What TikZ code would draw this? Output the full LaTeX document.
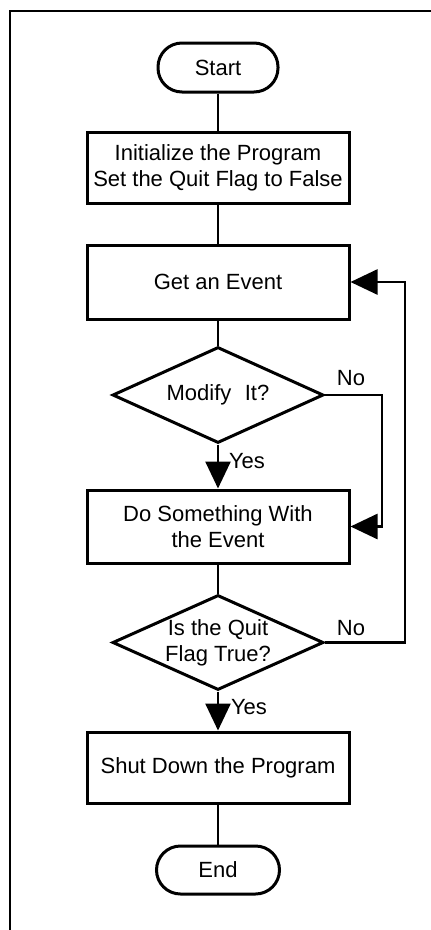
\documentclass[tikz,border=0pt]{standalone}
\usepackage{fontspec}
\setmainfont{Liberation Sans}
\usetikzlibrary{shapes.geometric,arrows.meta}

\begin{document}
\begin{tikzpicture}[x=1pt,y=-1pt,
  every node/.style={font=\fontsize{22}{26}\selectfont, align=center, inner sep=0pt},
  pill/.style={draw, line width=3pt, rounded corners=24pt,
               minimum width=120pt, minimum height=49pt},
  stepbox/.style={draw, line width=3pt, minimum width=262pt},
  decision/.style={draw, diamond, aspect=2.2, line width=3pt,
               minimum width=211pt, minimum height=96pt},
  flow/.style={line width=2.6pt},
  flowarrow/.style={line width=2.6pt, -{Triangle[length=27pt,width=25pt]}}]

  % parameters
  \def\xc{218}   % centre line of the chart
  \def\xa{382}   % right lane of the first loop
  \def\xb{405}   % right lane of the second loop

  \useasboundingbox (0,0) rectangle (431,930);

  % frame (top and left edges only)
  \draw[line width=1.6pt] (10,930) -- (10,11) -- (431,11);

  % chart
  \node[pill] (start) at (\xc,67.5) {Start};
  \node[stepbox, minimum height=71pt] (init) at (\xc,167.5)
      {Initialize the Program\\Set the Quit Flag to False};
  \node[stepbox, minimum height=74pt] (getev) at (\xc,282) {Get an Event};
  \node[decision] (modify) at (\xc,395) {Modify\,\, It?};
  \node[decision, minimum height=95pt] (quit) at (\xc,642.5)
      {Is the Quit\\Flag True?};
  \node[stepbox, minimum height=73pt] (dosome) at (\xc,526.5)
      {Do Something With\\the Event};
  \node[stepbox, minimum height=71pt] (shut) at (\xc,767.5)
      {Shut Down the Program};
  \node[pill, minimum width=123pt, minimum height=48pt] (end) at (\xc,870) {End};

  % straight connectors
  \draw[flow] (start) -- (init);
  \draw[flow] (init) -- (getev);
  \draw[flow] (getev) -- (modify);
  \draw[flowarrow] (modify) -- (dosome);
  \draw[flow] (dosome) -- (quit);
  \draw[flowarrow] (quit) -- (shut);
  \draw[flow] (shut) -- (end);

  % loops on the right
  \coordinate (laneA) at (\xa,395);
  \coordinate (laneB) at (\xb,642.5);
  \draw[flowarrow] (modify.east) -- (laneA) |- (dosome.east);
  \draw[flowarrow] (quit.east) -- (laneB) |- (getev.east);

  % branch labels
  \node (yesA) at (247,461) {Yes};
  \node (yesB) at (249,707) {Yes};
  \node (noA) at (351,378) {No};
  \node (noB) at (351,628) {No};

\end{tikzpicture}
\end{document}
